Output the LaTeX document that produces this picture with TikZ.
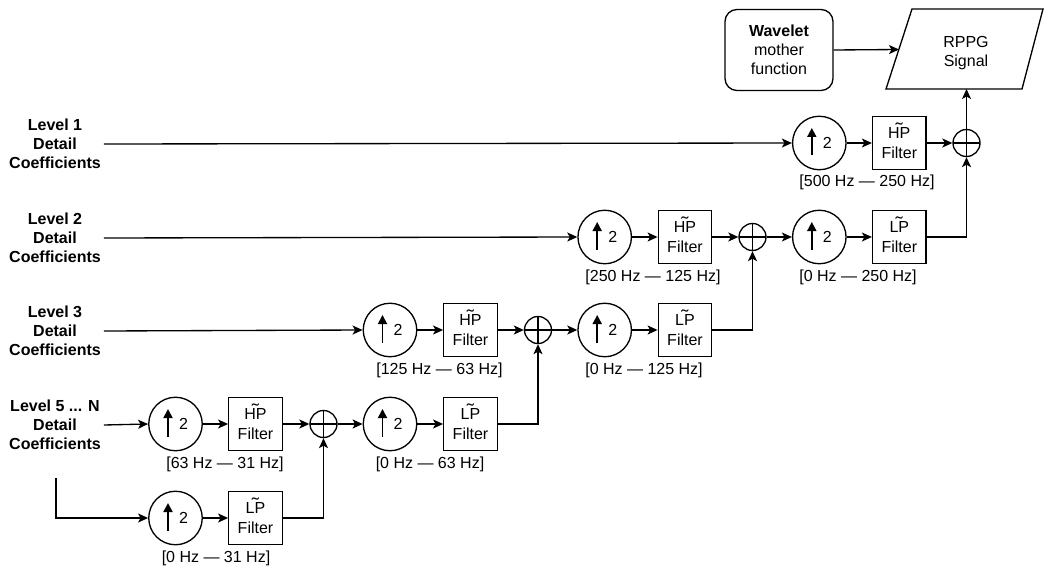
\documentclass[tikz,border=0pt]{standalone}
\usepackage{fontspec}
\setmainfont{Liberation Sans}
\usetikzlibrary{arrows.meta}
\newcommand\tw[1]{\ooalign{#1\cr\hidewidth\smash{\raisebox{0.18em}{\scalebox{1.35}[1.1]{\char"02DC}}}\hidewidth\cr}}
\begin{document}
\begin{tikzpicture}[x=1pt,y=-1pt, line width=1.33pt,
  font=\fontsize{16}{19.2}\selectfont,
  every node/.style={inner sep=0pt},
  upc/.style={circle,draw,minimum size=53.5pt},
  filt/.style={draw,minimum size=53.5pt,align=center},
  sumc/.style={circle,draw,minimum size=27pt,
    path picture={\draw (path picture bounding box.north)--(path picture bounding box.south)
                        (path picture bounding box.west)--(path picture bounding box.east);}},
  lvl/.style={align=center,font=\fontsize{16}{19.2}\selectfont\bfseries,inner sep=2.5pt},
  band/.style={},
  arr/.style={-{Stealth[length=10pt,width=9pt,inset=2.5pt]}},
  uparrow/.style={line width=1.8pt,-{Triangle[length=9pt,width=9pt]}},
]
\useasboundingbox (0,0) rectangle (1044,567);
\newcommand\two{\hspace*{16pt}2}
\newcommand\uparr[1]{\draw[uparrow] ([shift={(-7.5,12.5)}]#1.center) -- ([shift={(-7.5,-15)}]#1.center);}

% top: wavelet and RPPG
\node[draw,rounded corners=12pt,minimum width=108pt,minimum height=81pt,align=center] (wav) at (779,50)
  {\textbf{Wavelet}\\mother\\function};
\draw (886,89) -- (912,9) -- (1043,9) -- (1022,89) -- cycle;
\node[align=center] (rppg) at (966,53) {RPPG\\Signal};
\coordinate (rppgL) at (899,49.5);
\coordinate (rppgB) at (966.5,89);

% labels
\node[lvl] (L1) at (55,144) {Level 1\\Detail\\Coefficients};
\node[lvl] (L2) at (55,238) {Level 2\\Detail\\Coefficients};
\node[lvl] (L3) at (55,331) {Level 3\\Detail\\Coefficients};
\node[lvl] (L5) at (55,425) {Level 5 ... N\\Detail\\Coefficients};
\coordinate (start6) at (56,478);

% row 1
\node[upc] (c13) at (819.3,143) {\two};
\node[filt] (f13) at (899.3,143) {\tw{HP}\\Filter};
\node[sumc] (s13) at (966.5,143) {};
\node[band] (b13) at (867,182) {[500 Hz — 250 Hz]};

% row 2
\node[upc] (c22) at (604.7,237) {\two};
\node[filt] (f22) at (685,237) {\tw{HP}\\Filter};
\node[sumc] (s22) at (752.5,237) {};
\node[upc] (c23) at (819.3,237) {\two};
\node[filt] (f23) at (899.3,237) {\tw{LP}\\Filter};
\node[band] (b22) at (653,277) {[250 Hz — 125 Hz]};
\node[band] (b23) at (858,277) {[0 Hz — 250 Hz]};

% row 3
\node[upc] (c31) at (390,330) {\two};
\node[filt] (f31) at (470.5,330) {\tw{HP}\\Filter};
\node[sumc] (s31) at (538,330) {};
\node[upc] (c32) at (604.7,330) {\two};
\node[filt] (f32) at (685,330) {\tw{LP}\\Filter};
\node[band] (b31) at (439.5,370) {[125 Hz — 63 Hz]};
\node[band] (b32) at (644,370) {[0 Hz — 125 Hz]};

% row 5
\node[upc] (c50) at (175.5,424) {\two};
\node[filt] (f50) at (255.5,424) {\tw{HP}\\Filter};
\node[sumc] (s50) at (323.5,424) {};
\node[upc] (c51) at (390,424) {\two};
\node[filt] (f51) at (470.5,424) {\tw{LP}\\Filter};
\node[band] (b50) at (225,464) {[63 Hz — 31 Hz]};
\node[band] (b51) at (430,464) {[0 Hz — 63 Hz]};

% row 6
\node[upc] (c60) at (175.5,518) {\two};
\node[filt] (f60) at (255.5,518) {\tw{LP}\\Filter};
\node[band] (b60) at (216,558) {[0 Hz — 31 Hz]};

% arrows inside the upsampling circles
\uparr{c13}\uparr{c22}\uparr{c23}\uparr{c31}\uparr{c32}\uparr{c50}\uparr{c51}\uparr{c60}

% connectors
\draw[arr] (wav.east) -- (rppgL);
\draw[arr] (s13.north) -- (rppgB);

\draw[arr] (L1.east) -- (c13.west);
\draw[arr] (c13) -- (f13);
\draw[arr] (f13) -- (s13);

\draw[arr] (L2.east) -- (c22.west);
\draw[arr] (c22) -- (f22);
\draw[arr] (f22) -- (s22);
\draw[arr] (s22) -- (c23);
\draw[arr] (c23) -- (f23);
\draw[arr] (f23.east) -| (s13.south);

\draw[arr] (L3.east) -- (c31.west);
\draw[arr] (c31) -- (f31);
\draw[arr] (f31) -- (s31);
\draw[arr] (s31) -- (c32);
\draw[arr] (c32) -- (f32);
\draw[arr] (f32.east) -| (s22.south);

\draw[arr] (L5.east) -- (c50.west);
\draw[arr] (c50) -- (f50);
\draw[arr] (f50) -- (s50);
\draw[arr] (s50) -- (c51);
\draw[arr] (c51) -- (f51);
\draw[arr] (f51.east) -| (s31.south);

\draw[arr] (start6) |- (c60.west);
\draw[arr] (c60) -- (f60);
\draw[arr] (f60.east) -| (s50.south);
\end{tikzpicture}
\end{document}
